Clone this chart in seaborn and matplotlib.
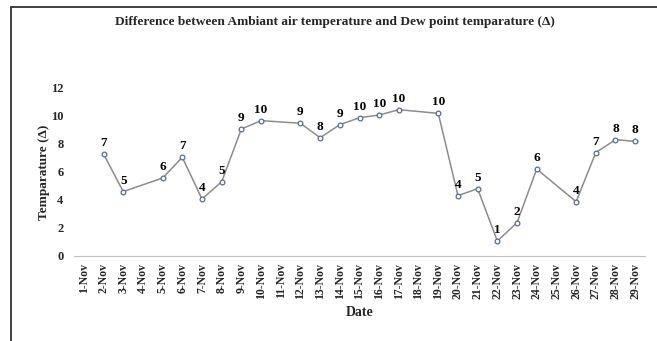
import matplotlib
matplotlib.use("Agg")
import matplotlib.pyplot as plt
import seaborn as sns
import numpy as np
import pandas as pd
from matplotlib.lines import Line2D

dates = [f"{d}-Nov" for d in range(1, 30)]
obs_dates = ["2-Nov", "3-Nov", "5-Nov", "6-Nov", "7-Nov", "8-Nov", "9-Nov", "10-Nov",
             "12-Nov", "13-Nov", "14-Nov", "15-Nov", "16-Nov", "17-Nov", "19-Nov",
             "20-Nov", "21-Nov", "22-Nov", "23-Nov", "24-Nov", "26-Nov", "27-Nov",
             "28-Nov", "29-Nov"]
values = [7.29, 4.6, 5.57, 7.05, 4.07, 5.3, 9.07, 9.67,
          9.48, 8.45, 9.38, 9.88, 10.07, 10.45, 10.19,
          4.31, 4.81, 1.07, 2.38, 6.21, 3.88, 7.38,
          8.31, 8.19]
labels = [7, 5, 6, 7, 4, 5, 9, 10, 9, 8, 9, 10, 10, 10, 10, 4, 5, 1, 2, 6, 4, 7, 8, 8]
y_ticks = [0, 2, 4, 6, 8, 10, 12]

df = pd.DataFrame({"Date": obs_dates, "Value": values})
df["pos"] = df["Date"].map({d: i for i, d in enumerate(dates)})

sns.set_style("white")
plt.rcParams["font.family"] = ["Liberation Serif", "DejaVu Serif"]
plt.rcParams["font.weight"] = "bold"

fig = plt.figure(figsize=(6.57, 3.41), dpi=100)
ax = fig.add_axes([74/657, 1-256/341, (645-74)/657, (256-88)/341])

sns.lineplot(data=df, x="pos", y="Value", ax=ax, color="#8c8c8c", linewidth=1.1,
             marker="o", markersize=3.4, markerfacecolor="white",
             markeredgecolor="#5b6b8c", markeredgewidth=0.9, sort=True)

for p, v, l in zip(df["pos"], df["Value"], labels):
    ax.annotate(str(l), (p, v), xytext=(0, 3.5), textcoords="offset points",
                ha="center", va="bottom", fontsize=9.5, fontweight="bold",
                color="black", annotation_clip=False)

ax.set_xlim(-0.5, len(dates) - 0.5)
ax.set_ylim(0, 12)
ax.set_xticks(range(len(dates)))
ax.set_xticklabels(dates, rotation=90, fontsize=8.5, fontweight="bold")
ax.set_xticks(np.arange(-0.5, len(dates), 1.0), minor=True)
ax.tick_params(axis="x", which="major", length=0, pad=5)
ax.tick_params(axis="x", which="minor", length=4, color="#bfbfbf", width=0.8, direction="out")
ax.set_yticks(y_ticks)
ax.set_yticklabels([str(t) for t in y_ticks], fontsize=9, fontweight="bold")
ax.tick_params(axis="y", length=0, pad=7.5)

for s in ["top", "right", "left"]:
    ax.spines[s].set_visible(False)
ax.spines["bottom"].set_color("#bfbfbf")
ax.spines["bottom"].set_linewidth(0.8)

ax.set_xlabel("Date", fontsize=10, fontweight="bold", labelpad=5)
ax.set_ylabel("Temparature (Δ)", fontsize=9.5, fontweight="bold", labelpad=1)

fig.text(335/657, 1-22/341, "Difference between Ambiant air temperature and Dew point temparature (Δ)",
         ha="center", va="center", fontsize=9.6, fontweight="bold")

# outer frame (left and top edges)
fig.add_artist(Line2D([11/657, 11/657], [0, 1-7/341], transform=fig.transFigure,
                      color="#333333", linewidth=1.3))
fig.add_artist(Line2D([11/657, 1], [1-7/341, 1-7/341], transform=fig.transFigure,
                      color="#333333", linewidth=1.3))

fig.savefig("out.png", dpi=100)
